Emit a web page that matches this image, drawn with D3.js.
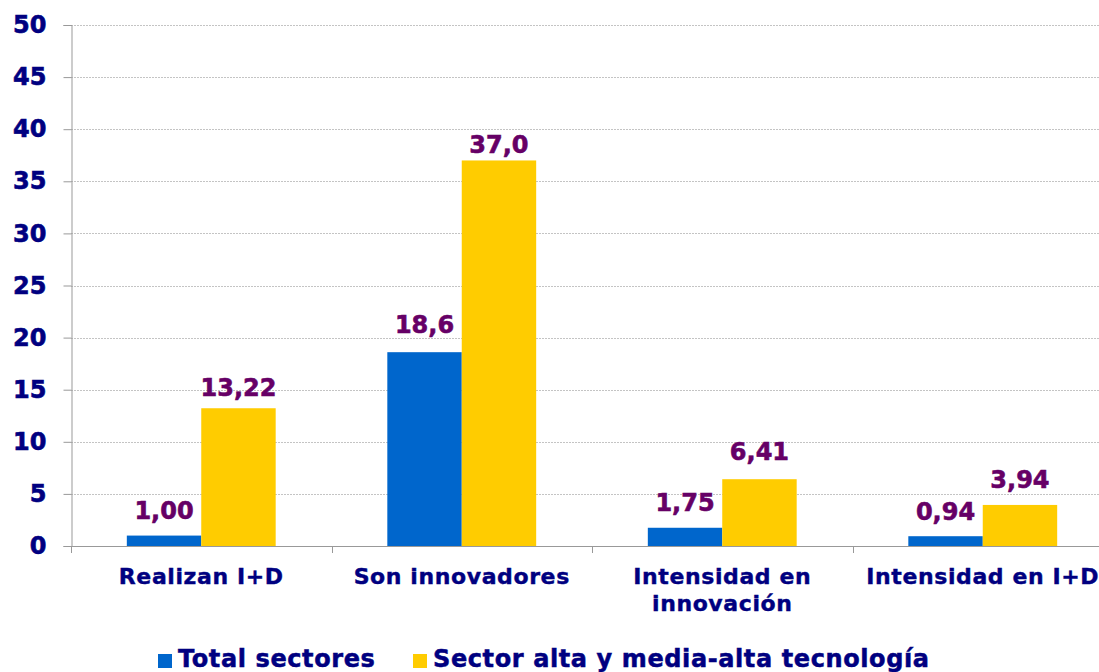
<!DOCTYPE html>
<html>
<head>
<meta charset="utf-8">
<script src="https://cdn.jsdelivr.net/npm/d3@7"></script>
<style>
  body { margin: 0; background: #fff; }
  svg { display: block; font-family: "DejaVu Sans", Verdana, sans-serif; font-weight: bold; }
</style>
</head>
<body>
<div class="chart"></div>
<script>
// Data
const categories = [["Realizan I+D"], ["Son innovadores"], ["Intensidad en", "innovación"], ["Intensidad en I+D"]]
const seriesNames = ["Total sectores", "Sector alta y media-alta tecnología"]
const totalValues = [1.00, 18.6, 1.75, 0.94]
const totalLabels = ["1,00", "18,6", "1,75", "0,94"]
const altaValues = [13.22, 37.0, 6.41, 3.94]
const altaLabels = ["13,22", "37,0", "6,41", "3,94"]
const yTicks = [0, 5, 10, 15, 20, 25, 30, 35, 40, 45, 50]

const colors = ['#0066CC', '#FFCC00']
const navy = '#000080'
const purple = '#660066'

// Draw the chart
const svgWidth = 1099,
      svgHeight = 672
const svg = d3.select(".chart")
        .append('svg')
        .attr('width', svgWidth)
        .attr('height', svgHeight)

const plotLeft = 71, plotRight = 1113, plotTop = 25, plotBottom = 546

const catKeys = categories.map((d, i) => i)
const x0 = d3.scaleBand()
             .domain(catKeys)
             .range([plotLeft, plotRight])
             .padding(0)
const x1 = d3.scaleBand()
             .domain([0, 1])
             .range([0, x0.bandwidth()])
             .paddingInner(0)
             .paddingOuter(0.75)
const yScale = d3.scaleLinear()
                 .domain([0, 50])
                 .range([plotBottom, plotTop])

// Dotted gridlines
svg.append('g')
   .selectAll('line')
   .data(yTicks.filter(d => d > 0))
   .enter()
   .append('line')
   .attr('x1', plotLeft)
   .attr('x2', svgWidth)
   .attr('y1', d => Math.round(yScale(d)) + 0.5)
   .attr('y2', d => Math.round(yScale(d)) + 0.5)
   .attr('stroke', '#c4c4c4')
   .attr('stroke-dasharray', '2,1')

// Bars
const rows = catKeys.map(i => ({ i, vals: [totalValues[i], altaValues[i]], labels: [totalLabels[i], altaLabels[i]] }))
const groups = svg.append('g')
   .selectAll('g')
   .data(rows)
   .enter()
   .append('g')
   .attr('transform', d => `translate(${x0(d.i)},0)`)

groups.selectAll('rect')
      .data(d => d.vals.map((v, s) => ({ v, s })))
      .enter()
      .append('rect')
      .attr('x', d => x1(d.s))
      .attr('width', x1.bandwidth())
      .attr('y', d => yScale(d.v))
      .attr('height', d => plotBottom - yScale(d.v))
      .attr('fill', d => colors[d.s])

// Value labels (a couple sit closer to their bar in the original)
const labelGap = [[17, 19, 17, 16], [12, 7, 19, 17]]
groups.selectAll('text')
      .data(d => d.vals.map((v, s) => ({ v, s, i: d.i, t: d.labels[s] })))
      .enter()
      .append('text')
      .attr('x', d => x1(d.s) + x1.bandwidth() / 2)
      .attr('y', d => yScale(d.v) - labelGap[d.s][d.i])
      .attr('text-anchor', 'middle')
      .attr('font-size', 24)
      .attr('fill', purple)
      .attr('stroke', purple)
      .attr('stroke-width', 0.6)
      .text(d => d.t)

// Y axis
const yAxis = d3.axisLeft(yScale).tickValues(yTicks).tickSize(8).tickPadding(17)
const yg = svg.append('g')
   .attr('transform', `translate(${plotLeft + 0.5}, 0)`)
   .call(yAxis)
yg.select('.domain').attr('stroke', '#999')
yg.selectAll('.tick line').attr('stroke', '#999')
yg.selectAll('.tick text')
  .attr('font-size', 24)
  .attr('font-family', '"DejaVu Sans", Verdana, sans-serif')
  .attr('font-weight', 'bold')
  .attr('fill', navy)
  .attr('stroke', navy)
  .attr('stroke-width', 0.6)

// X axis
svg.append('line')
   .attr('x1', plotLeft).attr('x2', svgWidth)
   .attr('y1', plotBottom + 0.5).attr('y2', plotBottom + 0.5)
   .attr('stroke', '#999')
svg.append('g')
   .selectAll('line')
   .data(catKeys)
   .enter()
   .append('line')
   .attr('x1', d => Math.round(x0(d)) + 0.5)
   .attr('x2', d => Math.round(x0(d)) + 0.5)
   .attr('y1', plotBottom)
   .attr('y2', plotBottom + 7)
   .attr('stroke', '#999')

const catText = svg.append('g')
   .selectAll('text')
   .data(catKeys)
   .enter()
   .append('text')
   .attr('x', d => x0(d) + x0.bandwidth() / 2)
   .attr('y', 584)
   .attr('text-anchor', 'middle')
   .attr('font-size', 22)
   .attr('letter-spacing', 0.6)
   .attr('fill', navy)
   .attr('stroke', navy)
   .attr('stroke-width', 0.4)
catText.selectAll('tspan')
   .data(d => categories[d])
   .enter()
   .append('tspan')
   .attr('x', function() { return d3.select(this.parentNode).attr('x') })
   .attr('dy', (d, i) => i === 0 ? 0 : 27)
   .text(d => d)

// Legend
const legendX = [158, 413]
const legend = svg.append('g')
   .selectAll('g')
   .data(seriesNames)
   .enter()
   .append('g')
   .attr('transform', (d, i) => `translate(${legendX[i]}, 654)`)
legend.append('rect')
      .attr('width', 14)
      .attr('height', 14)
      .attr('fill', (d, i) => colors[i])
legend.append('text')
      .attr('x', 20)
      .attr('y', 13)
      .attr('font-size', 24)
      .attr('letter-spacing', 0.6)
      .attr('fill', navy)
      .attr('stroke', navy)
      .attr('stroke-width', 0.5)
      .text(d => d)
</script>
</body>
</html>
